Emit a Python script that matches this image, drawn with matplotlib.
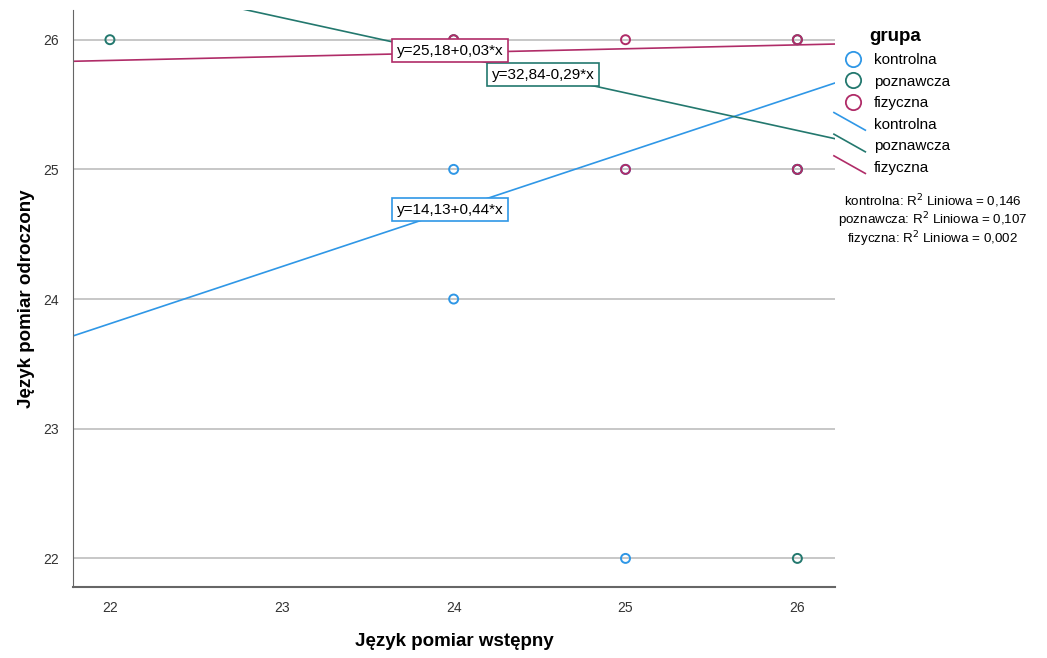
import numpy as np
import matplotlib.pyplot as plt
from matplotlib.lines import Line2D
from matplotlib.legend_handler import HandlerBase

plt.rcParams['font.family'] = ['Liberation Sans', 'DejaVu Sans']

groups = ["kontrolna", "poznawcza", "fizyczna"]
colors = ["#2f97e6", "#23786e", "#b02c68"]

# punkty obserwacji: pomiar wstepny / pomiar odroczony
x_kontrolna = [24, 24, 25, 25, 26]
y_kontrolna = [25, 24, 22, 25, 25]
x_poznawcza = [22, 24, 26, 26, 26]
y_poznawcza = [26, 26, 26, 25, 22]
x_fizyczna = [24, 25, 26, 25, 26]
y_fizyczna = [26, 26, 26, 25, 25]

# linie regresji (wyraz wolny, nachylenie) i R2
intercepts = [14.13, 32.84, 25.18]
slopes = [0.44, -0.29, 0.03]
r2 = [0.146, 0.107, 0.002]

xs = [x_kontrolna, x_poznawcza, x_fizyczna]
ys = [y_kontrolna, y_poznawcza, y_fizyczna]

fig = plt.figure(figsize=(10.47, 6.58), dpi=100)
ax = fig.add_axes([0.0697, 0.108, 0.728, 0.877])
xlim = (21.785, 26.22)
ax.set_xlim(*xlim)
ax.set_ylim(21.78, 26.23)

for yv in [22, 23, 24, 25, 26]:
    ax.axhline(yv, color="#bdbdbd", lw=1.2, zorder=0)

xx = np.array(xlim)
for i in range(3):
    ax.plot(xx, intercepts[i] + slopes[i] * xx, color=colors[i], lw=1.2, zorder=2)

for i in range(3):
    ax.scatter(xs[i], ys[i], s=42, facecolors="none", edgecolors=colors[i],
               linewidths=1.4, zorder=3)

def fmt(v):
    return ("%.2f" % v).replace(".", ",")

labels = [
    ("y=%s+%s*x" % (fmt(intercepts[0]), fmt(slopes[0])), 23.67, 24.69),
    ("y=%s%s*x" % (fmt(intercepts[1]), fmt(slopes[1])), 24.22, 25.73),
    ("y=%s+%s*x" % (fmt(intercepts[2]), fmt(slopes[2])), 23.67, 25.915),
]
for i, (txt, lx, ly) in enumerate(labels):
    ax.text(lx, ly, txt, fontsize=11, ha="left", va="center", zorder=5,
            bbox=dict(boxstyle="square,pad=0.3", fc="white", ec=colors[i], lw=1.2))

ax.set_xticks([22, 23, 24, 25, 26])
ax.set_yticks([22, 23, 24, 25, 26])
ax.tick_params(length=0, labelsize=10, colors="#333333", pad=10)
for s in ["top", "right"]:
    ax.spines[s].set_visible(False)
ax.spines["left"].set_color("#666666")
ax.spines["bottom"].set_color("#666666")
ax.spines["bottom"].set_linewidth(1.5)

ax.set_xlabel("Język pomiar wstępny", fontsize=13.5, fontweight="bold", labelpad=13)
ax.set_ylabel("Język pomiar odroczony", fontsize=13.5, fontweight="bold", labelpad=6)


class DiagHandler(HandlerBase):
    def create_artists(self, legend, orig, xd, yd, w, h, fs, trans):
        ln = Line2D([-xd - 5, -xd + w], [h + 4, -1], color=orig.get_color(),
                    lw=1.2, transform=trans)
        return [ln]


handles = []
for i in range(3):
    handles.append(Line2D([], [], ls="none", marker="o", ms=11, mfc="none",
                          mec=colors[i], mew=1.3))
diag = [Line2D([], [], color=c) for c in colors]
hmap = {h: DiagHandler() for h in diag}
leg = fig.legend(handles + diag, groups + groups, handler_map=hmap,
                 loc="upper left", bbox_to_anchor=(0.79, 0.978),
                 frameon=False, fontsize=11, title="grupa",
                 title_fontproperties={"weight": "bold", "size": 13.5},
                 handlelength=1.6, handletextpad=0.55, labelspacing=0.5)

for k, (g, v) in enumerate(zip(groups, r2)):
    fig.text(0.891, 0.694 - k * 0.029,
             "%s: R$^2$ Liniowa = %s" % (g, ("%.3f" % v).replace(".", ",")),
             ha="center", va="center", fontsize=9.6)

fig.savefig("out.png", dpi=100)
